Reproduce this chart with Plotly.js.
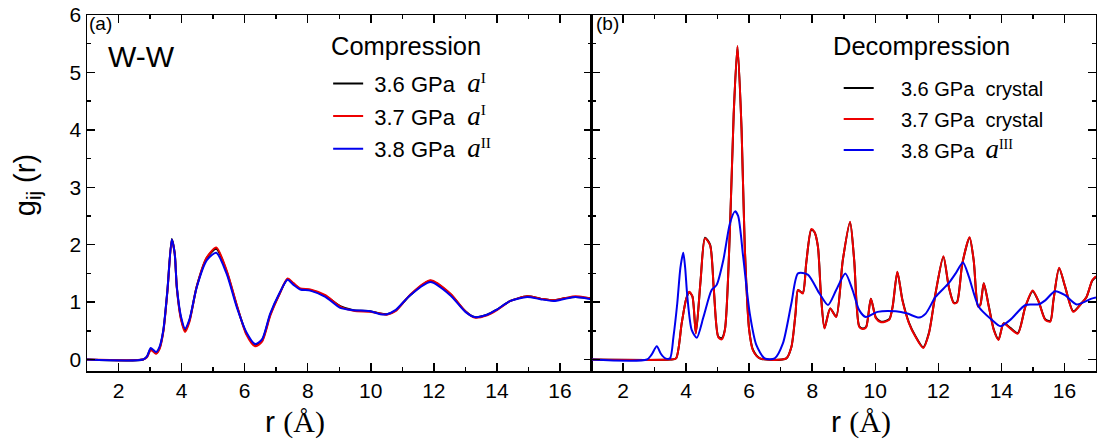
<!DOCTYPE html>
<html><head><meta charset="utf-8">
<script src="https://cdn.plot.ly/plotly-3.0.1.min.js"></script>
<style>html,body{margin:0;padding:0;background:#fff;}</style>
</head><body>
<div id="chart" style="width:1097px;height:439px;"></div>
<script>
// ---------- Panel (a): Compression ----------
const rA = [1.0, 2.78, 2.9, 3.02, 3.12, 3.19, 3.3, 3.42, 3.55, 3.69, 3.78, 3.85, 3.98, 4.11, 4.25, 4.48, 4.8, 5.1, 5.43, 5.75, 6.05, 6.33, 6.55, 6.81, 7.1, 7.36, 7.55, 7.76, 8.08, 8.56, 9.03, 9.45, 9.98, 10.3, 10.51, 10.78, 11.25, 11.89, 12.52, 13.0, 13.29, 13.69, 14.0, 14.43, 14.96, 15.38, 15.8, 16.17, 16.49, 16.9, 17.0];
const gA_36 = [0, 0, 0.05, 0.18, 0.14, 0.11, 0.20, 0.50, 1.2, 2.1, 1.86, 1.25, 0.72, 0.51, 0.68, 1.27, 1.77, 1.93, 1.53, 0.94, 0.46, 0.25, 0.33, 0.78, 1.14, 1.40, 1.32, 1.23, 1.21, 1.11, 0.93, 0.86, 0.84, 0.80, 0.79, 0.85, 1.12, 1.37, 1.14, 0.84, 0.74, 0.78, 0.87, 1.02, 1.10, 1.06, 1.03, 1.07, 1.09, 1.07, 1.06];
const gA_37 = [0, 0, 0.04, 0.16, 0.13, 0.10, 0.18, 0.48, 1.18, 2.08, 1.85, 1.24, 0.70, 0.48, 0.66, 1.27, 1.78, 1.95, 1.55, 0.95, 0.44, 0.23, 0.31, 0.76, 1.13, 1.41, 1.33, 1.24, 1.22, 1.12, 0.92, 0.85, 0.83, 0.80, 0.78, 0.84, 1.13, 1.38, 1.15, 0.84, 0.73, 0.77, 0.86, 1.02, 1.10, 1.06, 1.03, 1.07, 1.10, 1.07, 1.06];
const gA_38 = [0, 0, 0.05, 0.20, 0.16, 0.13, 0.22, 0.51, 1.2, 2.09, 1.85, 1.26, 0.75, 0.54, 0.70, 1.26, 1.73, 1.86, 1.49, 0.91, 0.48, 0.27, 0.35, 0.80, 1.15, 1.39, 1.30, 1.22, 1.20, 1.09, 0.90, 0.86, 0.84, 0.79, 0.79, 0.86, 1.12, 1.35, 1.12, 0.83, 0.74, 0.78, 0.87, 1.02, 1.09, 1.05, 1.02, 1.06, 1.09, 1.06, 1.05];

// ---------- Panel (b): Decompression ----------
const rB_cr = [1.0, 3.49, 3.68, 3.86, 4.0, 4.10, 4.2, 4.31, 4.46, 4.60, 4.76, 4.88, 5.02, 5.13, 5.23, 5.39, 5.51, 5.63, 5.76, 5.86, 6.0, 6.12, 6.34, 7.18, 7.34, 7.47, 7.55, 7.70, 7.81, 7.97, 8.07, 8.18, 8.28, 8.39, 8.57, 8.76, 8.97, 9.20, 9.33, 9.49, 9.6, 9.71, 9.86, 10.02, 10.18, 10.44, 10.55, 10.70, 10.86, 11.07, 11.28, 11.52, 11.70, 11.91, 12.16, 12.33, 12.49, 12.59, 12.76, 12.99, 13.12, 13.26, 13.33, 13.44, 13.60, 13.76, 13.91, 14.07, 14.28, 14.52, 14.76, 14.99, 15.18, 15.39, 15.55, 15.65, 15.83, 16.02, 16.28, 16.54, 16.7, 16.88, 17.0];
const gB_36 = [0, 0, 0.02, 0.63, 1.05, 1.17, 1.1, 0.46, 1.38, 2.12, 2.0, 1.22, 0.40, 0.37, 0.52, 2.25, 4.28, 5.45, 4.0, 1.98, 0.52, 0.17, 0.02, 0.02, 0.22, 0.80, 1.21, 1.16, 1.68, 2.26, 2.22, 1.97, 1.10, 0.55, 0.89, 0.75, 1.73, 2.39, 1.74, 0.58, 0.54, 0.57, 1.06, 0.73, 0.66, 0.70, 0.92, 1.52, 1.04, 0.64, 0.40, 0.21, 0.46, 1.15, 1.79, 1.27, 0.99, 1.0, 1.67, 2.12, 1.73, 0.93, 0.95, 1.33, 0.93, 0.52, 0.35, 0.63, 0.55, 0.46, 0.92, 1.19, 1.01, 0.70, 0.67, 1.03, 1.59, 1.27, 0.84, 0.98, 1.09, 1.37, 1.44];
const gB_37 = [0, 0, 0.02, 0.63, 1.05, 1.18, 1.1, 0.45, 1.38, 2.11, 1.99, 1.21, 0.39, 0.35, 0.51, 2.26, 4.29, 5.46, 4.0, 1.97, 0.51, 0.16, 0.02, 0.02, 0.22, 0.80, 1.21, 1.15, 1.68, 2.27, 2.22, 1.97, 1.09, 0.54, 0.89, 0.74, 1.73, 2.40, 1.73, 0.57, 0.53, 0.56, 1.06, 0.72, 0.65, 0.69, 0.92, 1.53, 1.03, 0.63, 0.39, 0.20, 0.45, 1.15, 1.80, 1.27, 0.98, 0.99, 1.67, 2.13, 1.73, 0.92, 0.95, 1.33, 0.92, 0.51, 0.34, 0.63, 0.54, 0.45, 0.92, 1.20, 1.01, 0.69, 0.66, 1.03, 1.60, 1.27, 0.83, 0.98, 1.09, 1.38, 1.45];
const rB_38 = [1.0, 2.76, 2.9, 3.07, 3.2, 3.34, 3.49, 3.6, 3.72, 3.82, 3.91, 3.97, 4.04, 4.18, 4.34, 4.55, 4.81, 4.97, 5.18, 5.39, 5.55, 5.65, 5.81, 6.02, 6.23, 6.49, 6.81, 7.07, 7.34, 7.55, 7.86, 8.23, 8.5, 8.76, 9.05, 9.28, 9.49, 9.70, 10.07, 10.65, 11.02, 11.39, 11.60, 11.91, 12.33, 12.55, 12.78, 12.97, 13.28, 13.70, 13.97, 14.28, 14.76, 15.18, 15.39, 15.70, 16.02, 16.39, 16.86, 17.0];
const gB_38 = [0, 0, 0.08, 0.23, 0.10, 0.02, 0.02, 0.40, 0.98, 1.60, 1.86, 1.60, 1.09, 0.51, 0.38, 0.74, 1.21, 1.30, 1.73, 2.37, 2.58, 2.50, 1.79, 0.80, 0.25, 0.02, 0.02, 0.28, 0.98, 1.50, 1.48, 1.15, 0.95, 1.21, 1.50, 1.21, 0.86, 0.74, 0.83, 0.84, 0.80, 0.73, 0.80, 1.09, 1.33, 1.50, 1.69, 1.44, 0.92, 0.69, 0.58, 0.69, 0.95, 0.96, 1.03, 1.19, 1.12, 0.96, 1.06, 1.08];

const SERIF = 'Liberation Serif, Times New Roman, serif';
const aSym = (sup) => '<i><span style="font-family:' + SERIF + ';font-size:27px">a</span></i><sup><span style="font-family:' + SERIF + '">' + sup + '</span></sup>';
const namesA = [' 3.6 GPa  ' + aSym('I'), ' 3.7 GPa  ' + aSym('I'), ' 3.8 GPa  ' + aSym('II')];
const namesB = ['    3.6 GPa  crystal', '    3.7 GPa  crystal', '    3.8 GPa  ' + aSym('III')];
const legendTitles = ['Compression', 'Decompression'];
const panelLabels = ['(a)', '(b)'];
const pairLabel = 'W-W';

const colors = ['#000000', '#ee0000', '#0000ee'];
const sm = 0.7;
function tr(x, y, name, c, xa, ya, leg, grp) {
  return {x: x, y: y, name: name, type: 'scatter', mode: 'lines', xaxis: xa, yaxis: ya,
          legend: leg, legendgroup: grp,
          line: {color: c, width: 2, shape: 'spline', smoothing: sm}};
}
const data = [
  tr(rA, gA_36, namesA[0], colors[0], 'x', 'y', 'legend', 'a1'),
  tr(rA, gA_37, namesA[1], colors[1], 'x', 'y', 'legend', 'a2'),
  tr(rA, gA_38, namesA[2], colors[2], 'x', 'y', 'legend', 'a3'),
  tr(rB_cr, gB_36, namesB[0], colors[0], 'x2', 'y2', 'legend2', 'b1'),
  tr(rB_cr, gB_37, namesB[1], colors[1], 'x2', 'y2', 'legend2', 'b2'),
  tr(rB_38, gB_38, namesB[2], colors[2], 'x2', 'y2', 'legend2', 'b3')
];

const SANS = 'Liberation Sans, Arial, sans-serif';
const NARROW = 'Liberation Sans Narrow, Arial Narrow, Liberation Sans, Arial';
const tickFont = {family: NARROW, size: 21, color: '#000'};
function xax(dom, anchor) {
  return {domain: dom, anchor: anchor, range: [1, 17], dtick: 2, tick0: 0,
    ticks: 'inside', ticklen: 8, tickwidth: 1.5, tickcolor: '#000',
    minor: {dtick: 1, tick0: 0, ticks: 'inside', ticklen: 4, tickwidth: 1.5, tickcolor: '#000'},
    showline: true, linecolor: '#000', linewidth: 1.5, mirror: 'ticks',
    showgrid: false, zeroline: false, tickfont: tickFont};
}
function yax(anchor, labels) {
  return {domain: [0, 1], anchor: anchor, range: [-0.2, 6], dtick: 1, tick0: 0,
    ticks: 'inside', ticklen: 8, tickwidth: 1.5, tickcolor: '#000',
    minor: {dtick: 0.5, tick0: 0, ticks: 'inside', ticklen: 4, tickwidth: 1.5, tickcolor: '#000'},
    showline: true, linecolor: '#000', linewidth: 1.5, mirror: 'ticks',
    showgrid: false, zeroline: false, tickfont: tickFont, showticklabels: labels};
}
const xTitle = '<span style="font-family:' + SANS + '">r </span>(Å)';
function ann(text, x, y, size, fam, extra) {
  return Object.assign({text: text, xref: 'paper', yref: 'paper', x: x, y: y, showarrow: false,
    xanchor: 'left', yanchor: 'top', font: {family: fam, size: size, color: '#000'}}, extra || {});
}
const layout = {
  width: 1097, height: 439,
  margin: {l: 87, r: 1, t: 15, b: 68},
  paper_bgcolor: '#fff', plot_bgcolor: '#fff',
  showlegend: true,
  xaxis: xax([0, 0.5], 'y'),
  yaxis: yax('x', true),
  xaxis2: xax([0.5, 1], 'y2'),
  yaxis2: yax('x2', false),
  legend: {x: 0.239, y: 0.866, xanchor: 'left', yanchor: 'top', bgcolor: 'rgba(0,0,0,0)',
    font: {family: NARROW, size: 22, color: '#000'}, tracegroupgap: 1},
  legend2: {x: 0.745, y: 0.85, xanchor: 'left', yanchor: 'top', bgcolor: 'rgba(0,0,0,0)',
    font: {family: SANS, size: 20, color: '#000'}, tracegroupgap: 2},
  annotations: [
    ann(panelLabels[0], 0.0, 1.012, 19, SANS),
    ann(pairLabel, 0.019, 0.935, 30, SANS),
    ann(panelLabels[1], 0.502, 1.012, 19, SANS),
    ann(legendTitles[0], 0.24, 0.957, 25.5, SANS),
    ann(legendTitles[1], 0.737, 0.957, 25.5, SANS),
    ann(xTitle, 0.206, -0.09, 30, SERIF, {xanchor: 'center'}),
    ann(xTitle, 0.767, -0.09, 30, SERIF, {xanchor: 'center'}),
    ann('g<sub>ij</sub> (r)', -0.0595, 0.522, 29, SANS, {xanchor: 'center', yanchor: 'middle', textangle: -90})
  ]
};
Plotly.newPlot('chart', data, layout, {displayModeBar: false, staticPlot: true});
</script>
</body></html>
